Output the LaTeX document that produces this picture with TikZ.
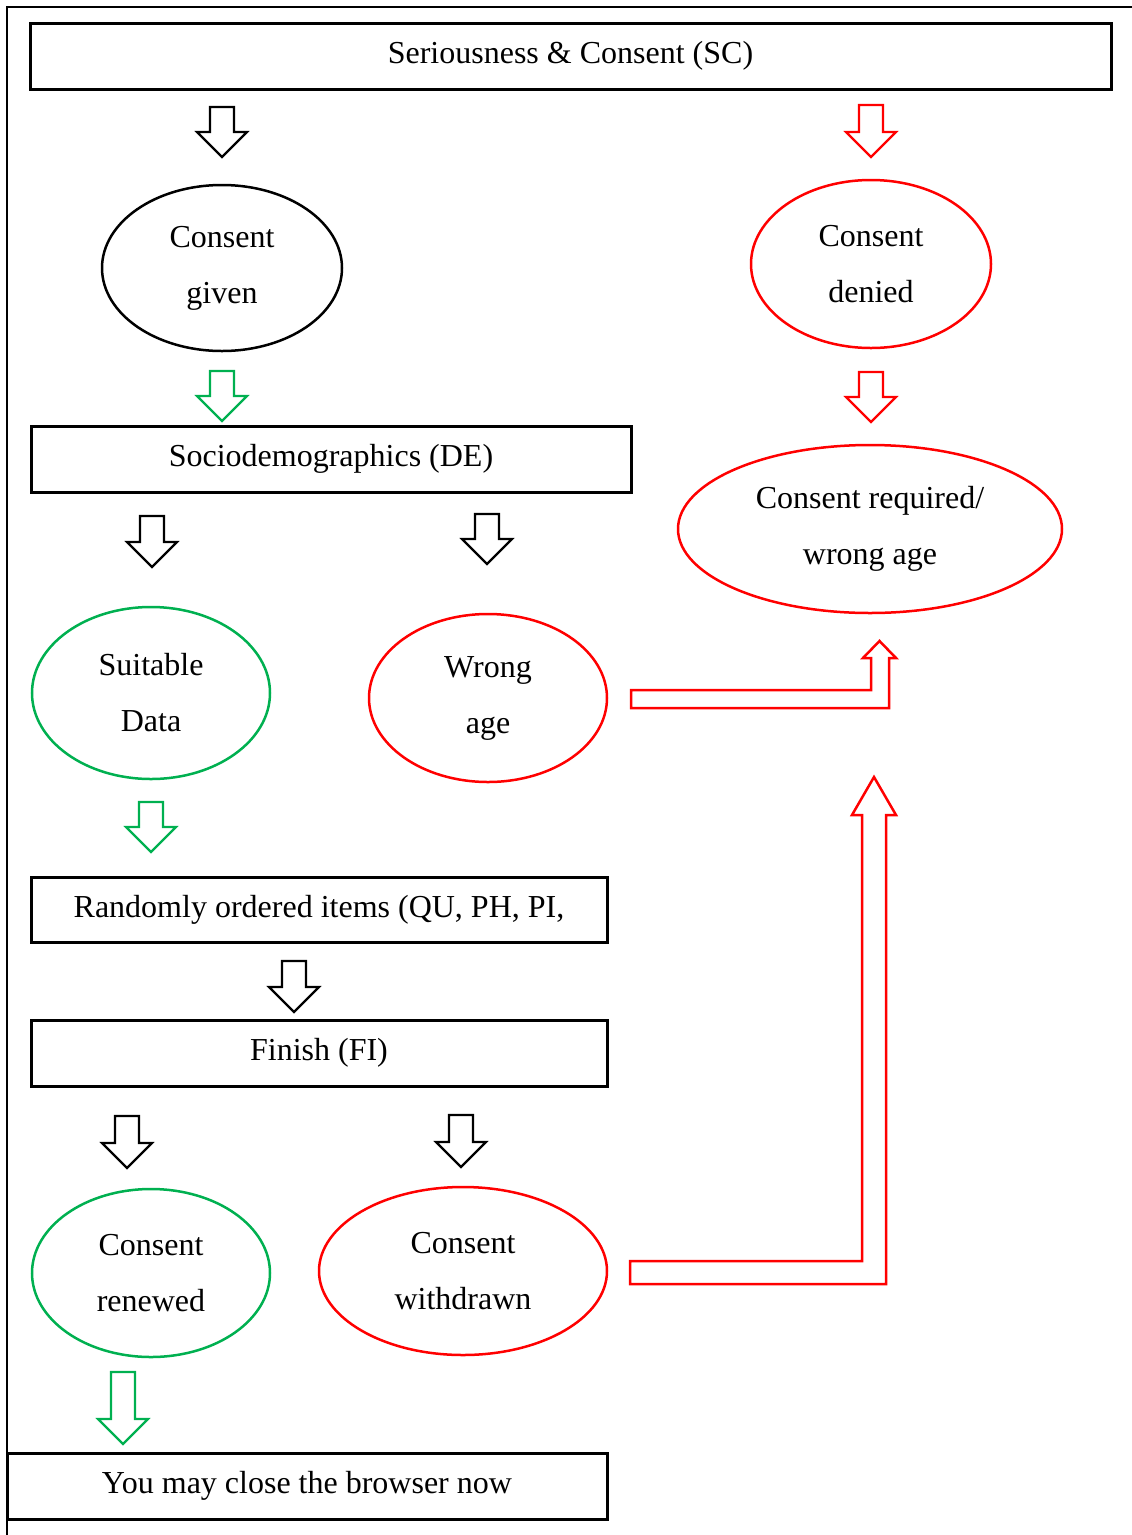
\documentclass[tikz,border=0pt]{standalone}
\usepackage{fontspec}
\setmainfont{Liberation Serif}
\usetikzlibrary{shapes.geometric}
\definecolor{sgreen}{RGB}{0,176,80}
\definecolor{sred}{RGB}{255,0,0}
% color, x of tip, y of tip, y of shaft top
\newcommand\blockdown[4]{%
  \draw[#1, line width=2.2pt, line join=miter]
    ({#2-12},#4) -- ({#2+12},#4) -- ({#2+12},{#3-25}) -- ({#2+25},{#3-25})
    -- (#2,#3) -- ({#2-25},{#3-25}) -- ({#2-12},{#3-25}) -- cycle;}
\tikzset{
  box/.style={draw, line width=3pt, rectangle, inner sep=0pt,
    font=\fontsize{32}{40}\selectfont},
  ell/.style={ellipse, draw, line width=2.5pt, inner sep=0pt, align=center,
    font=\fontsize{32}{56}\selectfont},
  bent/.style={draw=sred, line width=2.5pt, line join=miter}
}
\begin{document}
\begin{tikzpicture}[x=1pt,y=-1pt]
\useasboundingbox (0,0) rectangle (1132,1535);
% outer frame
\draw[line width=2pt] (7,1535) -- (7,7) -- (1132,7);

% boxes
\node[box, minimum width=1081, minimum height=66] (sc) at (570.5,56) {\raisebox{-2pt}{Seriousness \& Consent (SC)}};
\node[box, minimum width=600, minimum height=66] (de) at (331,459) {\raisebox{-2pt}{Sociodemographics (DE)}};
\node[box, minimum width=576, minimum height=65] (ro) at (319,909.5) {\raisebox{-1pt}{Randomly ordered items (QU, PH, PI,}};
\node[box, minimum width=576, minimum height=66] (fi) at (319,1053) {\raisebox{-2pt}{Finish (FI)}};
\node[box, minimum width=600, minimum height=66] (close) at (307,1486) {\raisebox{-1pt}{You may close the browser now}};

% ellipses
\node[ell, minimum width=240, minimum height=166] (given) at (222,268) {Consent\\given};
\node[ell, draw=sred, minimum width=240, minimum height=168] (denied) at (871,264) {Consent\\denied};
\node[ell, draw=sred, minimum width=384, minimum height=168] (req) at (870,529) {Consent required/\\wrong age};
\node[ell, draw=sgreen, minimum width=238, minimum height=172] (suit) at (151,693) {Suitable\\Data};
\node[ell, draw=sred, minimum width=238, minimum height=168] (wrong) at (488,698) {Wrong\\age};
\node[ell, draw=sgreen, minimum width=238, minimum height=168] (renew) at (151,1273) {Consent\\renewed};
\node[ell, draw=sred, minimum width=288, minimum height=168] (withdr) at (463,1271) {Consent\\withdrawn};

% block arrows
\blockdown{black}{222}{157}{107}
\blockdown{sred}{871}{157}{105}
\blockdown{sgreen}{222}{421}{371}
\blockdown{sred}{871}{422}{372}
\blockdown{black}{152}{567}{516}
\blockdown{black}{487}{564}{514}
\blockdown{sgreen}{151}{852}{802}
\blockdown{black}{294}{1012}{961}
\blockdown{black}{127}{1168}{1116}
\blockdown{black}{461}{1167}{1115}
\blockdown{sgreen}{123}{1444}{1372}

% bent arrows
\draw[bent] (631,690) -- (871,690) -- (871,658) -- (863,658) -- (879.5,641)
  -- (896,658) -- (889,658) -- (889,708) -- (631,708) -- cycle;
\draw[bent] (630,1261) -- (862,1261) -- (862,815) -- (852,815) -- (874,777)
  -- (896,815) -- (886,815) -- (886,1284) -- (630,1284) -- cycle;
\end{tikzpicture}
\end{document}
